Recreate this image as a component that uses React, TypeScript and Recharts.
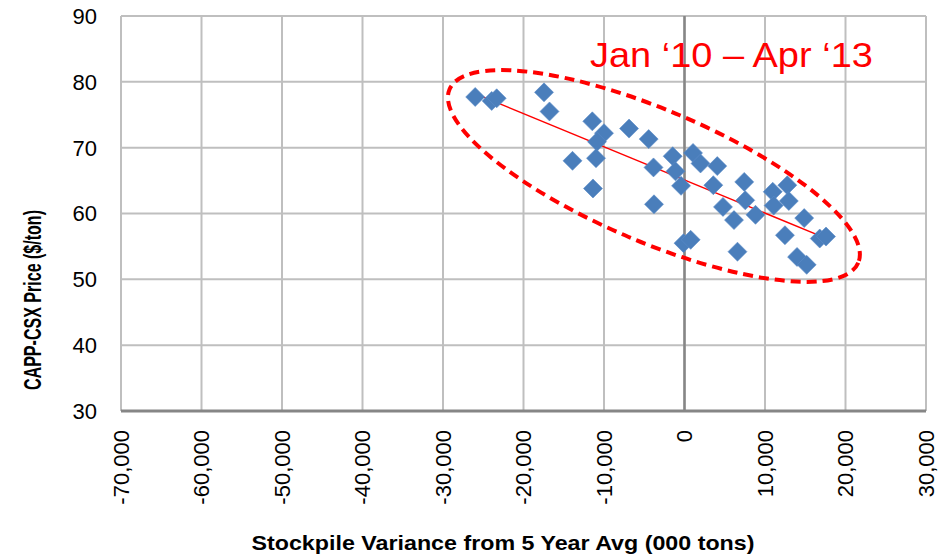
import React from "react";
import {
  ScatterChart,
  Scatter,
  XAxis,
  YAxis,
  CartesianGrid,
  ReferenceLine,
  ReferenceDot,
} from "recharts";

// Stockpile variance from 5-year average (000 tons)
const stockpileVariance = [
  -26000, -23950, -23330, -17450, -16770, -11450, -10000, -10870, -13910, -10990,
  -11370, -6890, -4450, -1470, -3850, -1120, -430, -3790, 1060, 1990,
  4070, 3580, 7420, 4780, 7550, 6150, 8820, 6580, 10960, 12770,
  11080, 12960, 14870, 12480, 16800, 17580, 13980, 15180, -120, 770,
];
// CAPP-CSX price ($/ton)
const cappPrice = [
  77.7, 77.1, 77.5, 78.4, 75.5, 74.0, 72.2, 70.9, 68.0, 68.4,
  63.8, 72.9, 71.3, 68.7, 67.0, 66.4, 64.2, 61.4, 69.2, 67.6,
  67.2, 64.3, 64.8, 61.0, 62.0, 59.0, 59.8, 54.2, 63.3, 64.3,
  61.2, 61.9, 59.3, 56.7, 56.2, 56.5, 53.4, 52.2, 55.5, 56.0,
];
// Linear trend endpoints
const trendX = [-26100, 17450];
const trendY = [78.25, 56.3];
// Ellipse annotation centre (data units)
const ellipseCenter = { x: -3800, y: 65.7 };
// Period annotation anchor (data units)
const periodLabel = "Jan \u201810 \u2013 Apr \u201813";
const periodAnchor = { x: -11750, y: 82.25 };

const xTicks = [-70000, -60000, -50000, -40000, -30000, -20000, -10000, 0, 10000, 20000, 30000];
const yTicks = [30, 40, 50, 60, 70, 80, 90];

const xTitle = "Stockpile Variance  from 5 Year Avg (000 tons)";
const yTitle = "CAPP-CSX Price ($/ton)";

const points = stockpileVariance.map((x, i) => ({ x, y: cappPrice[i] }));

const FONT = "'Liberation Sans', Arial, sans-serif";
const BLUE = "#4A7EBB";

const Diamond = (props: any) => {
  const { cx, cy } = props;
  const h = 9.5;
  return (
    <polygon
      points={`${cx},${cy - h} ${cx + h},${cy} ${cx},${cy + h} ${cx - h},${cy}`}
      fill={BLUE}
      stroke="#5B8CC8"
      strokeWidth={0.6}
    />
  );
};

const XTick = (props: any) => {
  const { x, y, payload } = props;
  const v = Number(payload.value);
  const label = v.toLocaleString("en-US");
  const ty = y + 11;
  return (
    <text
      x={x}
      y={ty}
      transform={`rotate(-90 ${x} ${ty})`}
      textAnchor="end"
      dy="0.36em"
      fill="#000"
      fontSize={22}
      fontFamily={FONT}
    >
      {label}
    </text>
  );
};

const YTick = (props: any) => {
  const { y, payload } = props;
  return (
    <text
      x={97}
      y={y}
      textAnchor="end"
      dy="0.36em"
      fill="#000"
      fontSize={22}
      fontFamily={FONT}
    >
      {payload.value}
    </text>
  );
};

const EllipseShape = (props: any) => {
  const { cx, cy } = props;
  return (
    <ellipse
      cx={cx}
      cy={cy}
      rx={222}
      ry={66}
      transform={`rotate(23 ${cx} ${cy})`}
      fill="none"
      stroke="#FF0000"
      strokeWidth={4}
      strokeDasharray="10 6"
    />
  );
};

const PeriodText = (props: any) => {
  const { cx, cy } = props;
  return (
    <text
      x={cx}
      y={cy}
      textAnchor="start"
      fill="#FF0000"
      fontSize={35}
      fontFamily={FONT}
      textLength={283}
      lengthAdjust="spacingAndGlyphs"
    >
      {periodLabel}
    </text>
  );
};

export default function App() {
  return (
    <div style={{ width: 938, height: 557, overflow: "hidden", fontFamily: FONT }}>
      <style>{"body{margin:0}"}</style>
      <ScatterChart
        width={938}
        height={557}
        margin={{ top: 16, right: 12, left: 0, bottom: 0 }}
      >
        <CartesianGrid stroke="#BFBFBF" strokeWidth={2} />
        <XAxis
          type="number"
          dataKey="x"
          domain={[-70000, 30000]}
          ticks={xTicks}
          interval={0}
          allowDataOverflow
          height={146}
          tick={<XTick />}
          tickLine={false}
          axisLine={{ stroke: "#868686", strokeWidth: 3 }}
          label={{
            content: () => (
              <text
                x={503}
                y={550}
                textAnchor="middle"
                fontSize={21}
                fontWeight="bold"
                fontFamily={FONT}
                fill="#000"
                textLength={503}
                lengthAdjust="spacingAndGlyphs"
              >
                {xTitle}
              </text>
            ),
          }}
        />
        <YAxis
          type="number"
          dataKey="y"
          domain={[30, 90]}
          ticks={yTicks}
          interval={0}
          allowDataOverflow
          width={121}
          tick={<YTick />}
          tickLine={false}
          axisLine={false}
          label={{
            content: () => (
              <text
                x={33}
                y={300}
                transform="rotate(-90 33 300)"
                textAnchor="middle"
                dy="0.36em"
                fontSize={23}
                fontWeight="bold"
                fontFamily={FONT}
                fill="#000"
                textLength={180}
                lengthAdjust="spacingAndGlyphs"
              >
                {yTitle}
              </text>
            ),
          }}
        />
        <ReferenceLine x={0} stroke="#868686" strokeWidth={2.5} />
        <Scatter data={points} shape={<Diamond />} isAnimationActive={false} />
        <ReferenceLine
          segment={[
            { x: trendX[0], y: trendY[0] },
            { x: trendX[1], y: trendY[1] },
          ]}
          stroke="#FF0000"
          strokeWidth={1.5}
        />
        <ReferenceDot
          x={ellipseCenter.x}
          y={ellipseCenter.y}
          r={1}
          shape={<EllipseShape />}
        />
        <ReferenceDot
          x={periodAnchor.x}
          y={periodAnchor.y}
          r={1}
          shape={<PeriodText />}
        />
      </ScatterChart>
    </div>
  );
}
